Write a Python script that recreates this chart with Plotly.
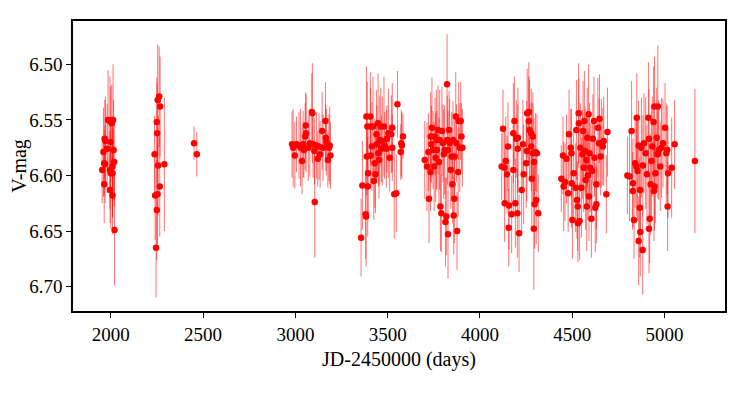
import plotly.graph_objects as go

# season 1
jd1 = [1953, 1964, 1960, 1967, 1971, 1964, 1969, 1980, 1985, 1995, 1998, 2005, 2012, 2015,
       2018, 1995, 2000, 2009, 2009, 1996, 2009, 2020]
mag1 = [6.595, 6.608, 6.579, 6.567, 6.569, 6.589, 6.590, 6.576, 6.550, 6.551, 6.570, 6.553,
        6.550, 6.577, 6.588, 6.595, 6.598, 6.598, 6.592, 6.613, 6.618, 6.649]
err1 = [0.03, 0.035, 0.04, 0.035, 0.04, 0.03, 0.035, 0.04, 0.045, 0.04, 0.05, 0.035,
        0.05, 0.045, 0.04, 0.035, 0.05, 0.04, 0.045, 0.03, 0.035, 0.05]

# season 2
jd2 = [2262, 2254, 2267, 2249, 2251, 2237, 2256, 2290, 2265, 2240, 2253, 2249, 2245]
mag2 = [6.529, 6.532, 6.538, 6.552, 6.562, 6.581, 6.591, 6.590, 6.610, 6.618, 6.617, 6.631, 6.665]
err2 = [0.045, 0.05, 0.045, 0.04, 0.045, 0.035, 0.045, 0.06, 0.045, 0.04, 0.045, 0.045, 0.045]

# season 3
jd3 = [2451, 2466]
mag3 = [6.571, 6.581]
err3 = [0.015, 0.02]

# season 4
jd4 = [2982, 2988, 2997, 3006, 3020, 3028, 3036, 3042, 3046, 3053, 3058, 3056, 3070, 3078,
       3089, 3092, 3096, 3103, 3105, 3114, 3121, 3128, 3134, 3145, 3150, 3163, 3165, 3168,
       3176, 3182, 3186, 3190]
mag4 = [6.572, 6.575, 6.582, 6.572, 6.573, 6.575, 6.587, 6.572, 6.577, 6.565, 6.562, 6.555,
        6.575, 6.571, 6.543, 6.544, 6.572, 6.578, 6.624, 6.573, 6.585, 6.574, 6.581, 6.560,
        6.575, 6.551, 6.566, 6.570, 6.586, 6.575, 6.573, 6.582]
err4 = [0.03, 0.035, 0.03, 0.025, 0.03, 0.035, 0.03, 0.03, 0.025, 0.03, 0.035, 0.03,
        0.03, 0.03, 0.035, 0.045, 0.03, 0.03, 0.05, 0.03, 0.025, 0.03, 0.03, 0.035,
        0.03, 0.035, 0.03, 0.03, 0.025, 0.03, 0.035, 0.03]

# season 5
jd5 = [3356, 3363, 3381, 3383, 3385, 3390, 3387, 3392, 3394, 3406, 3408, 3408, 3415, 3421,
       3425, 3430, 3434, 3439, 3442, 3448, 3450, 3453, 3457, 3463, 3466, 3471, 3480, 3484,
       3493, 3496, 3504, 3511, 3520, 3525, 3525, 3536, 3547, 3553, 3571, 3574, 3577, 3583]
mag5 = [6.656, 6.609, 6.635, 6.637, 6.547, 6.556, 6.583, 6.610, 6.598, 6.547, 6.556, 6.582,
        6.574, 6.556, 6.605, 6.589, 6.599, 6.563, 6.572, 6.553, 6.580, 6.586, 6.568, 6.556,
        6.576, 6.569, 6.556, 6.573, 6.576, 6.567, 6.562, 6.584, 6.563, 6.557, 6.575, 6.617,
        6.616, 6.536, 6.579, 6.571, 6.573, 6.565]
err5 = [0.035, 0.04, 0.04, 0.045, 0.045, 0.04, 0.035, 0.045, 0.04, 0.04, 0.035, 0.03,
        0.04, 0.045, 0.035, 0.04, 0.035, 0.04, 0.035, 0.045, 0.03, 0.035, 0.04, 0.035,
        0.03, 0.04, 0.045, 0.03, 0.035, 0.03, 0.04, 0.03, 0.035, 0.04, 0.03, 0.04,
        0.035, 0.03, 0.025, 0.03, 0.03, 0.02]

# season 6
jd6 = [3701, 3713, 3724, 3721, 3732, 3733, 3737, 3740, 3746, 3752, 3757, 3760, 3764, 3767,
       3773, 3778, 3782, 3786, 3791, 3794, 3800, 3804, 3809, 3813, 3818, 3822, 3823, 3827,
       3827, 3833, 3836, 3842, 3847, 3851, 3854, 3858, 3861, 3863, 3869, 3873, 3876, 3882,
       3885, 3891, 3896, 3900, 3905]
mag6 = [6.586, 6.592, 6.621, 6.579, 6.597, 6.565, 6.572, 6.557, 6.577, 6.592, 6.565, 6.584,
        6.568, 6.577, 6.559, 6.588, 6.568, 6.628, 6.634, 6.560, 6.571, 6.581, 6.577, 6.642,
        6.637, 6.518, 6.568, 6.653, 6.577, 6.559, 6.571, 6.595, 6.583, 6.608, 6.568, 6.636,
        6.621, 6.583, 6.547, 6.571, 6.650, 6.597, 6.551, 6.575, 6.551, 6.565, 6.575]
err6 = [0.035, 0.04, 0.04, 0.035, 0.035, 0.04, 0.035, 0.045, 0.035, 0.04, 0.035, 0.04,
        0.045, 0.035, 0.04, 0.04, 0.045, 0.04, 0.035, 0.04, 0.035, 0.04, 0.04, 0.04,
        0.035, 0.045, 0.04, 0.04, 0.035, 0.035, 0.04, 0.035, 0.04, 0.035, 0.035, 0.035,
        0.04, 0.035, 0.04, 0.035, 0.035, 0.04, 0.035, 0.04, 0.035, 0.03, 0.035]

# season 7
jd7 = [4125, 4118, 4133, 4134, 4140, 4147, 4152, 4156, 4158, 4172, 4181, 4181, 4187, 4192,
       4197, 4205, 4206, 4212, 4203, 4226, 4233, 4237, 4251, 4254, 4256, 4265, 4265, 4269,
       4278, 4278, 4281, 4287, 4287, 4292, 4293, 4296, 4301, 4305, 4309, 4316]
mag7 = [6.558, 6.592, 6.593, 6.625, 6.587, 6.599, 6.574, 6.647, 6.627, 6.635, 6.595, 6.562,
        6.551, 6.625, 6.567, 6.576, 6.566, 6.652, 6.634, 6.613, 6.572, 6.599, 6.589, 6.578,
        6.544, 6.543, 6.551, 6.559, 6.562, 6.574, 6.603, 6.565, 6.580, 6.648, 6.588, 6.626,
        6.579, 6.622, 6.580, 6.634]
err7 = [0.035, 0.03, 0.035, 0.035, 0.04, 0.035, 0.04, 0.035, 0.04, 0.035, 0.04, 0.045,
        0.04, 0.04, 0.035, 0.04, 0.045, 0.035, 0.04, 0.04, 0.04, 0.045, 0.04, 0.045,
        0.04, 0.045, 0.04, 0.045, 0.04, 0.04, 0.045, 0.04, 0.045, 0.055, 0.04, 0.04,
        0.035, 0.04, 0.035, 0.035]

# season 8
jd8 = [4441, 4450, 4454, 4461, 4469, 4478, 4483, 4492, 4496, 4501, 4497, 4508, 4519, 4523,
       4526, 4530, 4531, 4535, 4536, 4540, 4544, 4550, 4555, 4559, 4562, 4566, 4570, 4573,
       4577, 4579, 4582, 4585, 4589, 4591, 4594, 4598, 4604, 4607, 4612, 4618, 4621, 4625,
       4631, 4631, 4639, 4645, 4648, 4654, 4658, 4666, 4671, 4685, 4691]
mag8 = [6.603, 6.582, 6.610, 6.606, 6.585, 6.616, 6.563, 6.575, 6.580, 6.640, 6.607, 6.598,
        6.611, 6.559, 6.622, 6.628, 6.643, 6.544, 6.553, 6.641, 6.575, 6.611, 6.581, 6.560,
        6.593, 6.551, 6.578, 6.604, 6.586, 6.628, 6.566, 6.600, 6.545, 6.619, 6.580, 6.593,
        6.639, 6.596, 6.567, 6.551, 6.584, 6.629, 6.626, 6.608, 6.557, 6.571, 6.549, 6.583,
        6.571, 6.574, 6.569, 6.617, 6.561]
err8 = [0.03, 0.035, 0.04, 0.035, 0.04, 0.035, 0.04, 0.035, 0.04, 0.035, 0.04, 0.04,
        0.04, 0.045, 0.035, 0.04, 0.035, 0.045, 0.04, 0.035, 0.04, 0.045, 0.04, 0.045,
        0.04, 0.045, 0.04, 0.045, 0.04, 0.04, 0.045, 0.04, 0.045, 0.04, 0.045, 0.04,
        0.035, 0.045, 0.04, 0.04, 0.035, 0.04, 0.035, 0.04, 0.045, 0.04, 0.04, 0.035,
        0.04, 0.035, 0.04, 0.035, 0.04]

# season 9 + last point
jd9 = [4799, 4811, 4822, 4828, 4829, 4835, 4841, 4848, 4850, 4854, 4860, 4860, 4866, 4868,
       4869, 4875, 4882, 4883, 4889, 4898, 4905, 4913, 4916, 4916, 4920, 4925, 4929, 4934,
       4941, 4943, 4946, 4946, 4951, 4958, 4964, 4964, 4969, 4977, 4984, 4992, 5003, 5010,
       5015, 5019, 5017, 5039, 5055, 5165]
mag9 = [6.600, 6.601, 6.560, 6.614, 6.607, 6.640, 6.589, 6.592, 6.548, 6.596, 6.573, 6.659,
        6.629, 6.613, 6.651, 6.575, 6.667, 6.591, 6.571, 6.580, 6.599, 6.548, 6.567, 6.648,
        6.639, 6.608, 6.587, 6.574, 6.552, 6.614, 6.538, 6.610, 6.598, 6.566, 6.538, 6.581,
        6.577, 6.592, 6.575, 6.571, 6.557, 6.580, 6.577, 6.598, 6.628, 6.593, 6.572, 6.587]
err9 = [0.035, 0.04, 0.045, 0.035, 0.04, 0.035, 0.04, 0.045, 0.04, 0.045, 0.04, 0.04,
        0.045, 0.04, 0.04, 0.045, 0.04, 0.045, 0.045, 0.05, 0.045, 0.05, 0.045, 0.04,
        0.04, 0.045, 0.05, 0.045, 0.05, 0.045, 0.045, 0.04, 0.045, 0.045, 0.055, 0.04,
        0.045, 0.04, 0.045, 0.04, 0.04, 0.045, 0.04, 0.04, 0.04, 0.045, 0.04, 0.065]

jd = jd1 + jd2 + jd3 + jd4 + jd5 + jd6 + jd7 + jd8 + jd9
mag = mag1 + mag2 + mag3 + mag4 + mag5 + mag6 + mag7 + mag8 + mag9
err = err1 + err2 + err3 + err4 + err5 + err6 + err7 + err8 + err9

FONT = "Liberation Serif"

fig = go.Figure()
fig.add_trace(go.Scatter(
    x=jd, y=mag, mode="markers",
    marker=dict(color="#ff0000", size=6.5, line=dict(width=0)),
    error_y=dict(type="data", array=err, visible=True, width=0,
                 thickness=1, color="rgba(255,0,0,0.55)"),
    showlegend=False,
))

axis_common = dict(
    showline=True, linecolor="black", linewidth=1.5, mirror=True,
    ticks="outside", ticklen=5, tickwidth=1.2, tickcolor="black",
    showgrid=False, zeroline=False, automargin=False,
    tickfont=dict(family=FONT, size=19, color="black"),
)

# page body has an 8px margin, so the figure is sized/offset to compensate
fig.update_layout(
    width=731, height=379,
    paper_bgcolor="white", plot_bgcolor="white",
    margin=dict(l=65, r=14, t=13, b=76),
    font=dict(family=FONT, color="black"),
    xaxis=dict(
        range=[1795, 5328], tickvals=[2000, 2500, 3000, 3500, 4000, 4500, 5000],
        title=dict(text="JD-2450000 (days)", font=dict(family=FONT, size=20), standoff=8),
        **axis_common,
    ),
    yaxis=dict(
        range=[6.722, 6.461], tickvals=[6.50, 6.55, 6.60, 6.65, 6.70], tickformat=".2f",
        title=dict(text="V-mag", font=dict(family=FONT, size=20), standoff=9),
        **axis_common,
    ),
)

fig.write_html("out.html")
